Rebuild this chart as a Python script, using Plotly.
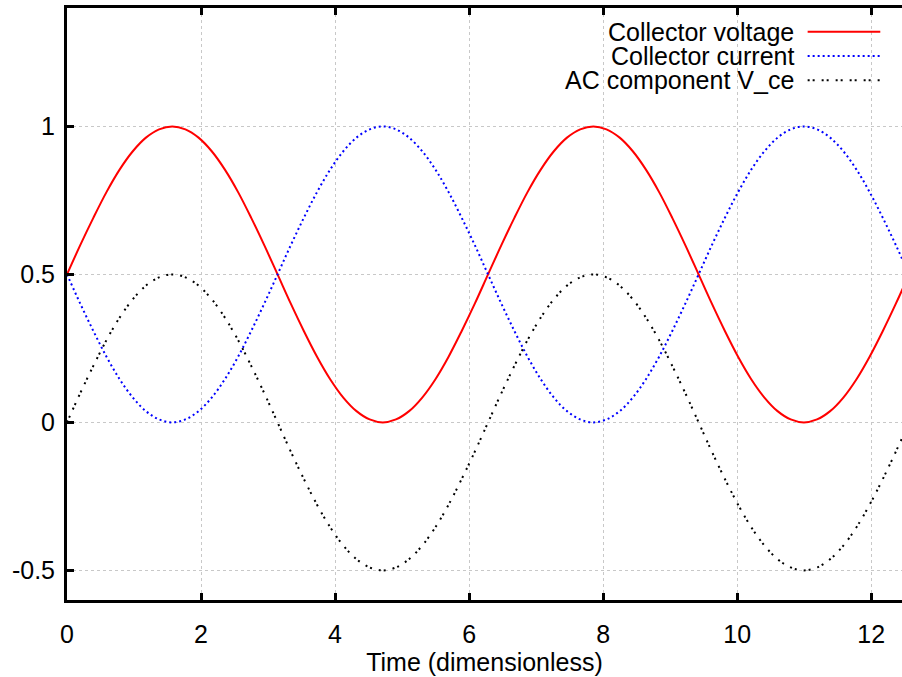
import plotly.graph_objects as go

# Sample times (dimensionless)
time = [0.000, 0.196, 0.393, 0.589, 0.785, 0.982, 1.178, 1.374, 1.571, 1.767,
        1.963, 2.160, 2.356, 2.553, 2.749, 2.945, 3.142, 3.338, 3.534, 3.731,
        3.927, 4.123, 4.320, 4.516, 4.712, 4.909, 5.105, 5.301, 5.498, 5.694,
        5.890, 6.087, 6.283, 6.480, 6.676, 6.872, 7.069, 7.265, 7.461, 7.658,
        7.854, 8.050, 8.247, 8.443, 8.639, 8.836, 9.032, 9.228, 9.425, 9.621,
        9.817, 10.014, 10.210, 10.407, 10.603, 10.799, 10.996, 11.192, 11.388, 11.585,
        11.781, 11.977, 12.174, 12.370, 12.566]

collector_voltage = [0.500, 0.598, 0.691, 0.778, 0.854, 0.916, 0.962, 0.990,
                     1.000, 0.990, 0.962, 0.916, 0.854, 0.778, 0.691, 0.598,
                     0.500, 0.402, 0.309, 0.222, 0.146, 0.084, 0.038, 0.010,
                     0.000, 0.010, 0.038, 0.084, 0.146, 0.222, 0.309, 0.402,
                     0.500, 0.598, 0.691, 0.778, 0.854, 0.916, 0.962, 0.990,
                     1.000, 0.990, 0.962, 0.916, 0.854, 0.778, 0.691, 0.598,
                     0.500, 0.402, 0.309, 0.222, 0.146, 0.084, 0.038, 0.010,
                     0.000, 0.010, 0.038, 0.084, 0.146, 0.222, 0.309, 0.402,
                     0.500]

collector_current = [0.500, 0.402, 0.309, 0.222, 0.146, 0.084, 0.038, 0.010,
                     0.000, 0.010, 0.038, 0.084, 0.146, 0.222, 0.309, 0.402,
                     0.500, 0.598, 0.691, 0.778, 0.854, 0.916, 0.962, 0.990,
                     1.000, 0.990, 0.962, 0.916, 0.854, 0.778, 0.691, 0.598,
                     0.500, 0.402, 0.309, 0.222, 0.146, 0.084, 0.038, 0.010,
                     0.000, 0.010, 0.038, 0.084, 0.146, 0.222, 0.309, 0.402,
                     0.500, 0.598, 0.691, 0.778, 0.854, 0.916, 0.962, 0.990,
                     1.000, 0.990, 0.962, 0.916, 0.854, 0.778, 0.691, 0.598,
                     0.500]

ac_component = [0.000, 0.098, 0.191, 0.278, 0.354, 0.416, 0.462, 0.490,
                0.500, 0.490, 0.462, 0.416, 0.354, 0.278, 0.191, 0.098,
                0.000, -0.098, -0.191, -0.278, -0.354, -0.416, -0.462, -0.490,
                -0.500, -0.490, -0.462, -0.416, -0.354, -0.278, -0.191, -0.098,
                0.000, 0.098, 0.191, 0.278, 0.354, 0.416, 0.462, 0.490,
                0.500, 0.490, 0.462, 0.416, 0.354, 0.278, 0.191, 0.098,
                0.000, -0.098, -0.191, -0.278, -0.354, -0.416, -0.462, -0.490,
                -0.500, -0.490, -0.462, -0.416, -0.354, -0.278, -0.191, -0.098,
                0.000]

series_names = ["Collector voltage", "Collector current", "AC component V_ce"]
x_ticks = [0, 2, 4, 6, 8, 10, 12]
y_ticks = [-0.5, 0, 0.5, 1]
y_tick_labels = ["-0.5", "0", "0.5", "1"]

FONT = "Liberation Sans, Arial, sans-serif"
FS = 25
colors = ["#ff0000", "#0000ff", "#000000"]
dashes = ["solid", "2px,3px", "2px,3px,2px,7px"]

fig = go.Figure()
for name, ys, c, d in zip(series_names, [collector_voltage, collector_current, ac_component], colors, dashes):
    fig.add_trace(go.Scatter(x=time, y=ys, mode="lines", name=name,
                             line=dict(color=c, width=2, dash=d, shape="spline", smoothing=1),
                             showlegend=False))

# Legend drawn gnuplot-style: right-aligned text with sample line on the right
leg_y = [0.960, 0.919, 0.878]
for name, c, d, yy in zip(series_names, colors, dashes, leg_y):
    fig.add_annotation(xref="paper", yref="paper", x=0.872, y=yy, text=name,
                       showarrow=False, xanchor="right", yanchor="middle", borderpad=0,
                       font=dict(family=FONT, size=FS, color="black"))
    fig.add_shape(type="line", xref="paper", yref="paper", x0=0.887, x1=0.974, y0=yy, y1=yy,
                  line=dict(color=c, width=2, dash=d))

fig.update_layout(
    width=902, height=677,
    margin=dict(l=67, r=0, t=8, b=77, autoexpand=False),
    paper_bgcolor="white", plot_bgcolor="white",
    font=dict(family=FONT, size=FS, color="black"),
)
fig.update_xaxes(
    range=[0, 12.46], tickvals=x_ticks, ticks="inside", ticklen=7, tickwidth=3, tickcolor="black",
    showline=True, linewidth=3, linecolor="black", mirror="allticks",
    showgrid=True, gridcolor="#c8c8c8", gridwidth=1, griddash="dot", zeroline=False,
    ticklabelstandoff=10,
    title=dict(text="Time (dimensionless)", standoff=2, font=dict(family=FONT, size=FS)),
)
fig.update_yaxes(
    range=[-0.6, 1.4], tickvals=y_ticks, ticktext=y_tick_labels, ticks="inside", ticklen=7,
    tickwidth=3, tickcolor="black", showline=True, linewidth=3, linecolor="black",
    showgrid=True, gridcolor="#c8c8c8", gridwidth=1, griddash="dot", zeroline=False,
    ticklabelstandoff=4,
)
fig.write_html("out.html", config={"displayModeBar": False},
               post_script="document.body.style.margin='0';")
